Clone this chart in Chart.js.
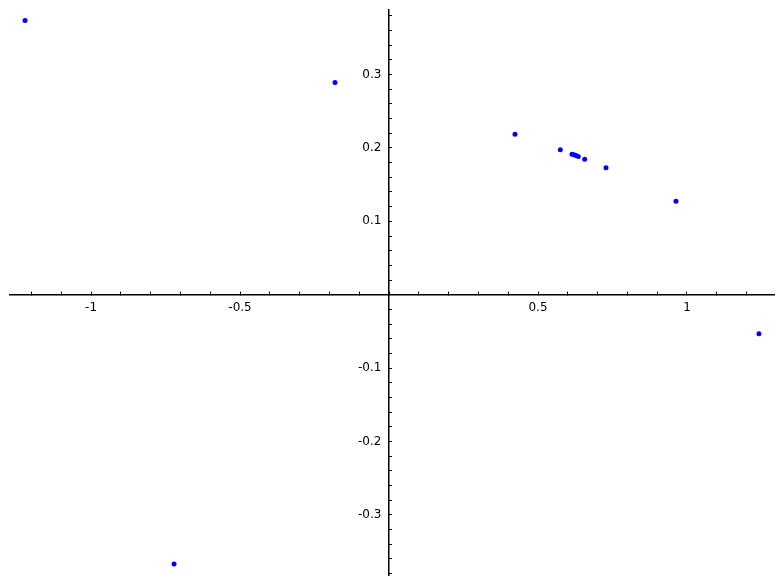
<!DOCTYPE html>
<html><head><meta charset="utf-8">
<script src="https://cdn.jsdelivr.net/npm/chart.js@4/dist/chart.umd.min.js"></script>
<style>html,body{margin:0;padding:0;background:#fff}#wrap{width:784px;height:584px}</style>
</head><body><div id="wrap"><canvas id="c" width="784" height="584"></canvas></div>
<script>
// Point data
const xValues = [-1.2215, -0.1812, 0.4228, 0.5748, 0.6141, 0.6208, 0.6275, 0.6352, 0.6567, 0.7282, 0.9630, 1.2416, -0.7215];
const yValues = [0.3738, 0.2892, 0.2187, 0.1974, 0.1914, 0.1906, 0.1896, 0.1883, 0.1846, 0.1729, 0.1272, -0.0532, -0.3670];

// Axis ranges
const xRange = [-1.272, 1.292];
const yRange = [-0.382, 0.388];

// Labelled ticks
const xLabelValues = [-1, -0.5, 0.5, 1];
const xLabelTexts = ['-1', '-0.5', '0.5', '1'];
const yLabelValues = [-0.3, -0.2, -0.1, 0.1, 0.2, 0.3];
const yLabelTexts = ['-0.3', '-0.2', '-0.1', '0.1', '0.2', '0.3'];

// Minor tick spacing
const xMinorStep = 0.1;
const yMinorStep = 0.02;

function minorTicks(range, step) {
  const out = [];
  const a = Math.ceil(range[0] / step - 1e-9), b = Math.floor(range[1] / step + 1e-9);
  for (let i = a; i <= b; i++) out.push({ value: +(i * step).toFixed(6) });
  return out;
}
function labelFor(values, texts, v, pad) {
  const i = values.findIndex(l => Math.abs(l - v) < 1e-6);
  return i >= 0 ? texts[i] + pad : '';
}

Chart.defaults.font.family = 'DejaVu Sans';
Chart.defaults.font.size = 12;
Chart.defaults.color = '#000';

const points = xValues.map((x, i) => ({ x: x, y: yValues[i] }));

new Chart(document.getElementById('c'), {
  type: 'scatter',
  data: { datasets: [{ data: points, pointRadius: 2.5, pointBackgroundColor: '#0000ff', pointBorderWidth: 0, pointHoverRadius: 2.5 }] },
  options: {
    responsive: false,
    animation: false,
    devicePixelRatio: 1,
    layout: { padding: { left: 10, right: 10, top: 10, bottom: 9 } },
    plugins: { legend: { display: false }, tooltip: { enabled: false } },
    scales: {
      x: {
        type: 'linear',
        min: xRange[0], max: xRange[1],
        position: { y: 0 },
        afterBuildTicks: s => { s.ticks = minorTicks(xRange, xMinorStep); },
        border: { display: true, color: '#000', width: 1.5 },
        grid: { drawOnChartArea: false, drawTicks: true, tickLength: -4, color: '#000', tickWidth: 1 },
        ticks: { autoSkip: false, maxRotation: 0, padding: 10, callback: v => labelFor(xLabelValues, xLabelTexts, v, '') }
      },
      y: {
        type: 'linear',
        min: yRange[0], max: yRange[1],
        position: { x: 0 },
        afterBuildTicks: s => { s.ticks = minorTicks(yRange, yMinorStep); },
        border: { display: true, color: '#000', width: 1.5 },
        grid: { drawOnChartArea: false, drawTicks: true, tickLength: -4, color: '#000', tickWidth: 1 },
        ticks: { autoSkip: false, padding: 0, callback: v => labelFor(yLabelValues, yLabelTexts, v, '  ') }
      }
    }
  }
});
</script>
</body></html>
